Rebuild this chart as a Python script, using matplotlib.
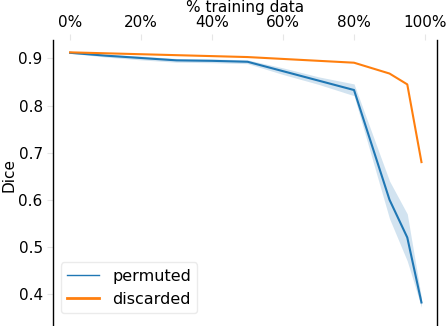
import matplotlib
matplotlib.use("Agg")
import matplotlib.pyplot as plt
from matplotlib.lines import Line2D
from matplotlib.ticker import PercentFormatter

# % training data affected
pct = [0, 10, 20, 30, 40, 50, 60, 70, 80, 90, 95, 99]

# permuted labels: mean dice and confidence band
permuted = [0.912, 0.906, 0.901, 0.896, 0.895, 0.893, 0.873, 0.853, 0.833, 0.600, 0.520, 0.382]
permuted_lo = [0.911, 0.903, 0.897, 0.892, 0.891, 0.889, 0.866, 0.845, 0.821, 0.560, 0.470, 0.372]
permuted_hi = [0.913, 0.909, 0.905, 0.900, 0.899, 0.897, 0.880, 0.861, 0.846, 0.640, 0.570, 0.392]

# discarded labels
discarded = [0.913, 0.911, 0.909, 0.907, 0.905, 0.903, 0.899, 0.895, 0.891, 0.868, 0.845, 0.680]

blue = '#1f77b4'
orange = '#ff7f0e'
light = '#e6e6e6'

fig = plt.figure(figsize=(4.46, 3.26), dpi=100)
ax = fig.add_axes([0.119, -0.003, 0.861, 0.880])

ax.fill_between(pct, permuted_lo, permuted_hi, color=blue, alpha=0.2, lw=0)
ax.plot(pct, permuted, color=blue, lw=1.5)
ax.plot(pct, discarded, color=orange, lw=1.5)

ax.set_xlim(-4.8, 103.4)
ax.set_ylim(0.330, 0.939)
ax.set_xticks([0, 20, 40, 60, 80, 100])
ax.set_yticks([0.4, 0.5, 0.6, 0.7, 0.8, 0.9])
ax.xaxis.set_major_formatter(PercentFormatter(xmax=100, decimals=0))
ax.xaxis.tick_top()
ax.xaxis.set_label_position('top')
ax.set_xlabel('% training data', fontsize=11, labelpad=2)
ax.set_ylabel('Dice', fontsize=11)
ax.yaxis.set_label_coords(-0.095, 0.53)
ax.tick_params(axis='both', labelsize=11, color=light, length=4)

ax.spines['top'].set_visible(False)
ax.spines['bottom'].set_visible(False)
for s in ('left', 'right'):
    ax.spines[s].set_color('black')
    ax.spines[s].set_linewidth(1.0)

handles = [Line2D([], [], color=blue, lw=1.0), Line2D([], [], color=orange, lw=2.0)]
leg = ax.legend(handles, ['permuted', 'discarded'], loc='lower left',
                fontsize=11.5, bbox_to_anchor=(0.0, 0.02), frameon=True)
leg.get_frame().set_edgecolor(light)

fig.savefig('out.png', dpi=100)
